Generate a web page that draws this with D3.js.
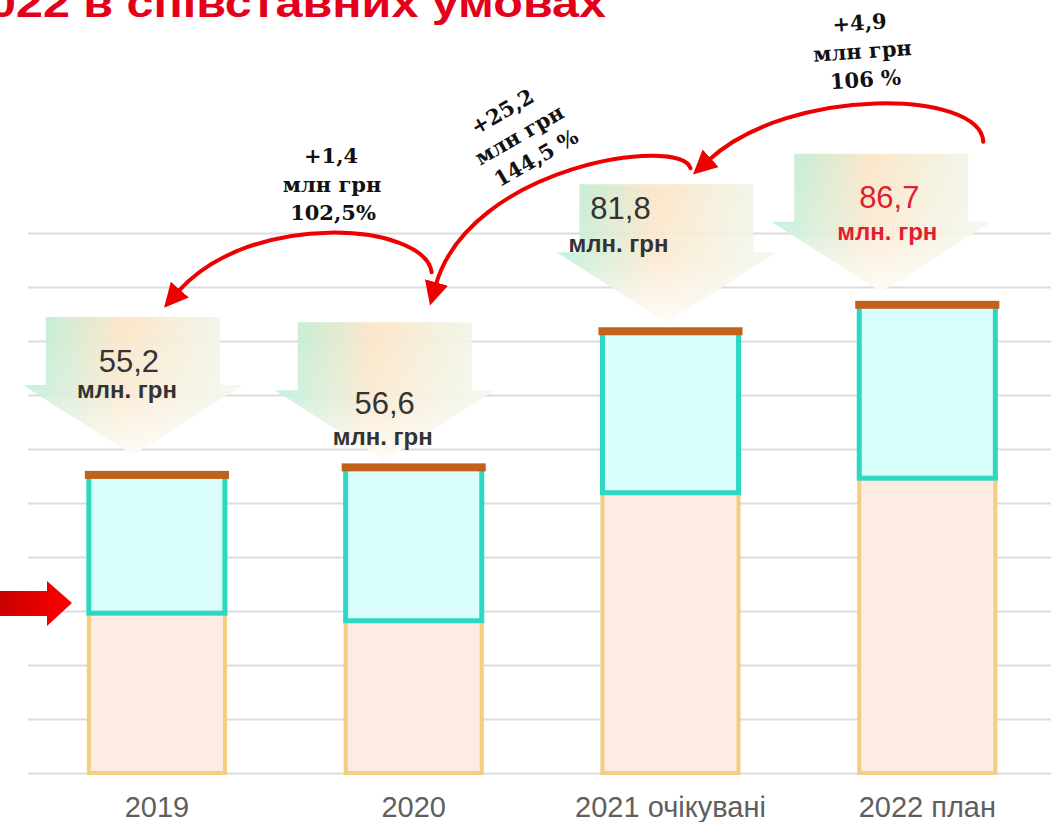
<!DOCTYPE html>
<html>
<head>
<meta charset="utf-8">
<script src="https://cdn.jsdelivr.net/npm/d3@7"></script>
<style>
  html, body { margin: 0; padding: 0; background: #ffffff; }
  svg { display: block; }
</style>
</head>
<body>
<svg id="chart" width="1051" height="822"></svg>
<script>
// ---------------- DATA ----------------
const categories = ["2019", "2020", "2021 очікувані", "2022 план"];
const totals = [55.2, 56.6, 81.8, 86.7];          // total, млн грн
const lowerPart = [29.6, 28.2, 51.9, 54.6];       // lower (peach) segment
const totalLabels = ["55,2", "56,6", "81,8", "86,7"];
const unitLabel = "млн. грн";
const changeLabels = [
  ["+1,4", "млн грн", "102,5%"],
  ["+25,2", "млн грн", "144,5 %"],
  ["+4,9", "млн грн", "106 %"]
];
const yTicks = [0, 10, 20, 30, 40, 50, 60, 70, 80, 90, 100];
const titleText = "022 в співставних умовах";

// ---------------- LAYOUT ----------------
const W = 1051, H = 822;
const svg = d3.select("#chart");
const x = d3.scaleBand().domain(categories).range([28.5, 1055.7]).paddingInner(0.47).paddingOuter(0.235);
const y = d3.scaleLinear().domain([0, 100]).range([773, 233]);
const cx = i => x(categories[i]) + x.bandwidth() / 2;

// gradients
const defs = svg.append("defs");
const gh = defs.append("linearGradient").attr("id", "callH").attr("x1", "0").attr("x2", "1").attr("y1", "0").attr("y2", "0");
gh.append("stop").attr("offset", "0%").attr("stop-color", "#b0eed6");
gh.append("stop").attr("offset", "45%").attr("stop-color", "#fbe4c4");
gh.append("stop").attr("offset", "100%").attr("stop-color", "#edf8ee");
const gv = defs.append("linearGradient").attr("id", "callV").attr("x1", "0").attr("x2", "0").attr("y1", "0").attr("y2", "1");
gv.append("stop").attr("offset", "0%").attr("stop-color", "#ffffff").attr("stop-opacity", 0.0);
gv.append("stop").attr("offset", "55%").attr("stop-color", "#ffffff").attr("stop-opacity", 0.2);
gv.append("stop").attr("offset", "100%").attr("stop-color", "#ffffff").attr("stop-opacity", 0.85);
const ga = defs.append("linearGradient").attr("id", "leftArrow").attr("x1", "0").attr("x2", "1");
ga.append("stop").attr("offset", "0%").attr("stop-color", "#c80000");
ga.append("stop").attr("offset", "100%").attr("stop-color", "#ff0000");
defs.append("marker").attr("id", "head").attr("markerUnits", "userSpaceOnUse")
  .attr("viewBox", "0 0 24 24").attr("markerWidth", 24).attr("markerHeight", 24)
  .attr("refX", 3).attr("refY", 12).attr("orient", "auto")
  .append("path").attr("d", "M0,0 L24,12 L0,24 Z").attr("fill", "#ee0000");

// title (cut at top, as in the reference)
svg.append("text").attr("x", -11).attr("y", 17)
  .attr("font-family", "Liberation Sans, Arial, sans-serif").attr("font-weight", "bold")
  .attr("font-size", 40).attr("fill", "#e3001b")
  .attr("textLength", 617).attr("lengthAdjust", "spacingAndGlyphs")
  .text(titleText);

// gridlines
const grid = svg.append("g").attr("transform", "translate(28,0)")
  .call(d3.axisRight(y).tickValues(yTicks).tickSize(W - 28).tickFormat(""));
grid.select(".domain").remove();
grid.selectAll("line").attr("stroke", "#dcdcdc").attr("stroke-width", 2);

// callouts (decorative down arrows with totals)
const callouts = [
  { dx: -24, gap: 20, tx: -6, n: 55, u: 81 },
  { dx: -29, gap: 7, tx: -2, n: 92, u: 123 },
  { dx: -4, gap: 9, tx: -48, n: 35, u: 68 },
  { dx: -46, gap: 13, tx: 6, n: 54, u: 86 }
];
const bodyHW = 87, bodyH = 68, headHW = 110, headH = 70;
totals.forEach((v, i) => {
  const c = callouts[i];
  const mx = cx(i) + c.dx;
  const tip = y(v) - c.gap;
  const sh = tip - headH, top = sh - bodyH;
  const d = `M${mx - bodyHW},${top} L${mx + bodyHW},${top} L${mx + bodyHW},${sh} L${mx + headHW},${sh} L${mx},${tip} L${mx - headHW},${sh} L${mx - bodyHW},${sh} Z`;
  svg.append("path").attr("d", d).attr("fill", "url(#callH)").attr("opacity", 0.9);
  svg.append("path").attr("d", d).attr("fill", "url(#callV)");
  const col = i === 3 ? "#e0202e" : "#333333";
  svg.append("text").attr("x", mx + c.tx + 2).attr("y", top + c.n).attr("text-anchor", "middle")
    .attr("font-family", "Liberation Sans, Arial, sans-serif").attr("font-size", 31)
    .attr("fill", col).text(totalLabels[i]);
  svg.append("text").attr("x", mx + c.tx).attr("y", top + c.u).attr("text-anchor", "middle")
    .attr("font-family", "Liberation Sans, Arial, sans-serif").attr("font-weight", "bold").attr("font-size", 24)
    .attr("fill", col).text(unitLabel);
});

// bars
const bars = svg.append("g");
categories.forEach((c, i) => {
  const x0 = x(c), bw = x.bandwidth();
  bars.append("rect").attr("x", x0).attr("width", bw)
    .attr("y", y(lowerPart[i])).attr("height", y(0) - y(lowerPart[i]))
    .attr("fill", "#fcece2").attr("stroke", "#f2cd82").attr("stroke-width", 4);
  bars.append("rect").attr("x", x0).attr("width", bw)
    .attr("y", y(totals[i])).attr("height", y(lowerPart[i]) - y(totals[i]))
    .attr("fill", "#dafefc").attr("stroke", "#2cd8c2").attr("stroke-width", 5);
  bars.append("rect").attr("x", x0 - 4).attr("width", bw + 8)
    .attr("y", y(totals[i]) - 4).attr("height", 8)
    .attr("fill", "#c2621a");
});

// x axis labels
const xa = svg.append("g").attr("transform", `translate(0,${y(0)})`)
  .call(d3.axisBottom(x).tickSize(0).tickPadding(23));
xa.select(".domain").remove();
xa.selectAll("text").attr("font-family", "Liberation Sans, Arial, sans-serif")
  .attr("font-size", 29).attr("fill", "#5f5f5f");

// red curved change arrows (from later year to previous year)
const arrows = [
  { from: 1, to: 0, s: [18, -195], c1: [11, -245], c2: [93, -265], e: [21, -183] },
  { from: 2, to: 1, s: [20, -163], c1: [10, -196], c2: [56, -302], e: [22, -182] },
  { from: 3, to: 2, s: [56, -163], c1: [53, -215], c2: [120, -246], e: [38, -171] }
];
arrows.forEach(a => {
  const sx = cx(a.from) + a.s[0], sy = y(totals[a.from]) + a.s[1];
  const ex = cx(a.to) + a.e[0], ey = y(totals[a.to]) + a.e[1];
  const c1x = cx(a.from) + a.c1[0], c1y = y(totals[a.from]) + a.c1[1];
  const c2x = cx(a.to) + a.c2[0], c2y = y(totals[a.to]) + a.c2[1];
  const p = d3.path();
  p.moveTo(sx, sy);
  p.bezierCurveTo(c1x, c1y, c2x, c2y, ex, ey);
  svg.append("path").attr("d", p.toString()).attr("fill", "none")
    .attr("stroke", "#ee0000").attr("stroke-width", 4).attr("stroke-linecap", "round")
    .attr("marker-end", "url(#head)");
});

// change labels
const labelPos = [
  { x: 331, y: 163, rot: 0 },
  { x: 506, y: 118, rot: -30 },
  { x: 860, y: 30, rot: -4 }
];
changeLabels.forEach((lines, i) => {
  const lp = labelPos[i];
  const g = svg.append("g").attr("transform", `translate(${lp.x},${lp.y}) rotate(${lp.rot})`);
  lines.forEach((t, k) => {
    g.append("text").attr("x", k * (i === 1 ? 3 : 1)).attr("y", k * 28.5)
      .attr("text-anchor", "middle")
      .attr("font-family", "DejaVu Serif, serif").attr("font-weight", "bold")
      .attr("font-size", 21).attr("fill", "#111111").text(t);
  });
});

// left red pointer arrow
const py = 603;
svg.append("path")
  .attr("d", `M0,${py - 12} L47,${py - 12} L47,${py - 22} L72,${py} L47,${py + 23} L47,${py + 13} L0,${py + 13} Z`)
  .attr("fill", "url(#leftArrow)");
</script>
</body>
</html>
